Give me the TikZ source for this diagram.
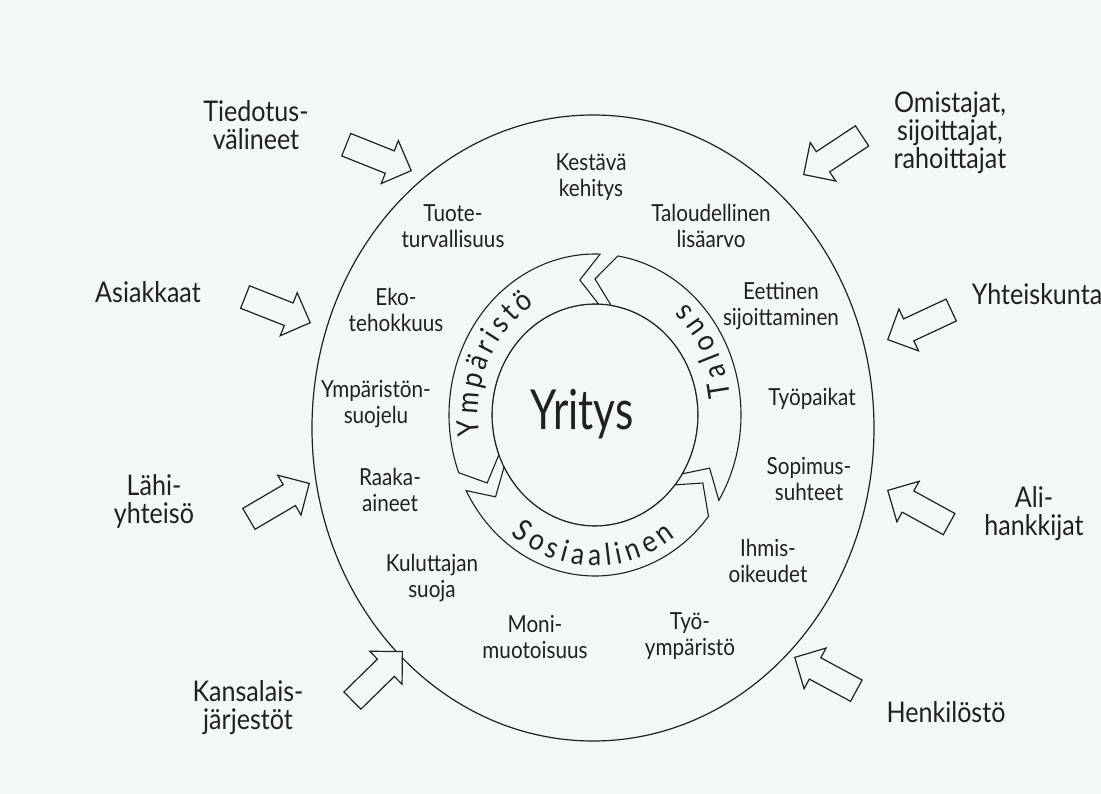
\documentclass[tikz,border=0pt]{standalone}
\usepackage{graphicx}
\usepackage{fontspec}
\setmainfont{Lato}[FakeStretch=0.88]
\usetikzlibrary{shapes.arrows,decorations.text}
\definecolor{paper}{RGB}{242,248,247}
\definecolor{ink}{RGB}{32,32,32}
\newcommand\bandfont{\fontsize{30}{30}\selectfont}
\begin{document}
\begin{tikzpicture}[x=1pt,y=1pt,
  lbl/.style={align=center, text=ink, font=\fontsize{23.5}{25.5}\selectfont, inner sep=0pt},
  olbl/.style={align=center, text=ink, font=\fontsize{28.5}{28}\selectfont, inner sep=0pt},
  barrow/.style={single arrow, draw=ink, line width=1.2pt, fill=paper, minimum height=70pt,
    inner xsep=0pt, inner ysep=11.5pt, single arrow head extend=11pt, anchor=tip},
  band/.style={draw=ink, line width=1.1pt, fill=paper, line join=miter},
  ring/.style={draw=ink, line width=1.2pt},
  bandtext/.style={decorate, decoration={text along path, text align=fit to path, text color=ink, text={|\bandfont|#1}}}
]
\fill[paper] (0,0) rectangle (1101,-794);
\useasboundingbox (0,0) rectangle (1101,-794);

% outer circle
\draw[ring] (593,-428) ellipse [x radius=281, y radius=313];

% inner ring with three arrows
\begin{scope}[shift={(595,-415)}]
  \draw[ring] (0,0) ellipse [x radius=103, y radius=111];
  % Ymparisto
  \draw[band] (88:146 and 161) arc[start angle=88,end angle=201,x radius=146,y radius=161]
    -- (210:124.5 and 136) -- (201:103 and 111)
    arc[start angle=201,end angle=88,x radius=103,y radius=111] -- (97:124.5 and 136) -- cycle;
  % Sosiaalinen
  \draw[band] (208:146 and 161) arc[start angle=208,end angle=321,x radius=146,y radius=161]
    -- (330:124.5 and 136) -- (321:103 and 111)
    arc[start angle=321,end angle=208,x radius=103,y radius=111] -- (217:124.5 and 136) -- cycle;
  % Talous
  \draw[band] (-32:146 and 161) arc[start angle=-32,end angle=81,x radius=146,y radius=161]
    -- (90:124.5 and 136) -- (81:103 and 111)
    arc[start angle=81,end angle=-32,x radius=103,y radius=111] -- (-23:124.5 and 136) -- cycle;
  % band texts
  \path[bandtext=Ympäristö] (189:117 and 129) arc[start angle=189,end angle=121,x radius=117,y radius=129];
  \path[bandtext=Talous] (7:136 and 150) arc[start angle=7,end angle=48,x radius=136,y radius=150];
  \path[bandtext=Sosiaalinen] (232:137 and 151) arc[start angle=232,end angle=306,x radius=137,y radius=151];
\end{scope}

\node[anchor=base, text=ink, inner sep=0pt, font=\fontsize{48}{48}\selectfont] (yritys) at (582,-429) {\scalebox{1}[1.15]{Yritys}};

% inner labels
\node[lbl] (kestava) at (591,-177) {Kestävä\\kehitys};
\node[lbl] (tuote) at (453,-226) {Tuote-\\turvallisuus};
\node[lbl] (talous) at (711,-226) {Taloudellinen\\lisäarvo};
\node[lbl] (eko) at (396,-310) {Eko-\\tehokkuus};
\node[lbl] (eettinen) at (781,-306) {Eettinen\\sijoittaminen};
\node[lbl] (tyopaikat) at (812,-399) {Työpaikat};
\node[lbl] (ympsuo) at (376,-404) {Ympäristön-\\suojelu};
\node[lbl] (sopimus) at (809,-479) {Sopimus-\\suhteet};
\node[lbl] (raaka) at (390,-490) {Raaka-\\aineet};
\node[lbl] (ihmis) at (768,-561) {Ihmis-\\oikeudet};
\node[lbl] (kuluttaja) at (432,-578) {Kuluttajan\\suoja};
\node[lbl] (moni) at (535,-637) {Moni-\\muotoisuus};
\node[lbl] (tyoymp) at (690,-636) {Työ-\\ympäristö};

% stakeholders
\node[olbl] (tiedotus) at (256,-125) {Tiedotus-\\välineet};
\node[olbl] (omistajat) at (950,-133) {Omistajat,\\sijoittajat,\\rahoittajat};
\node[olbl] (asiakkaat) at (148,-292.5) {Asiakkaat};
\node[olbl] (yhteiskunta) at (1037,-294.5) {Yhteiskunta};
\node[olbl] (lahi) at (154,-501) {Lähi-\\yhteisö};
\node[olbl] (ali) at (1034,-514) {Ali-\\hankkijat};
\node[olbl] (kansalais) at (248,-708) {Kansalais-\\järjestöt};
\node[olbl] (henkilosto) at (946,-712.5) {Henkilöstö};

% block arrows
\node[barrow, rotate=-21.8] (a1) at (412,-171) {};
\node[barrow, rotate=213.5] (a2) at (803,-175) {};
\node[barrow, rotate=-21.5] (a3) at (311,-323) {};
\node[barrow, rotate=205] (a4) at (887,-340) {};
\node[barrow, rotate=30.4] (a5) at (310,-483) {};
\node[barrow, rotate=151.2] (a6) at (887,-490) {};
\node[barrow, rotate=44.4] (a7) at (403,-651) {};
\node[barrow, rotate=151.6] (a8) at (794,-657) {};
\end{tikzpicture}
\end{document}
